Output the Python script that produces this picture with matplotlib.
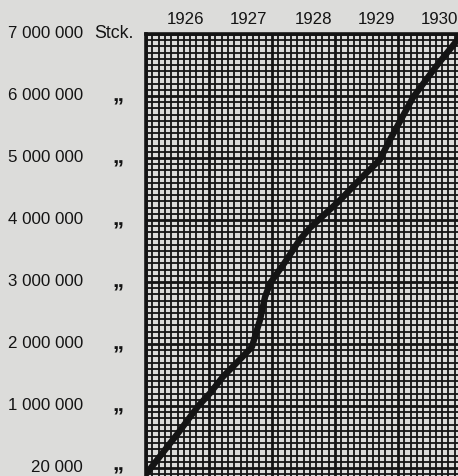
import numpy as np
import matplotlib
matplotlib.use("Agg")
import matplotlib.pyplot as plt
from matplotlib.ticker import MultipleLocator

# data (position in years, pieces)
years = [1926.00, 1926.50, 1926.83, 1927.02, 1927.22, 1927.50, 1927.68,
         1927.81, 1927.89, 1927.97, 1928.20, 1928.44, 1928.60, 1929.08,
         1929.40, 1929.71, 1929.87, 1930.24, 1930.60, 1930.94, 1930.98]
pieces = [-0.10e6, 0.55e6, 1.00e6, 1.21e6, 1.47e6, 1.76e6, 1.95e6,
          2.39e6, 2.76e6, 2.98e6, 3.31e6, 3.68e6, 3.87e6, 4.32e6,
          4.66e6, 4.97e6, 5.29e6, 5.98e6, 6.47e6, 6.90e6, 7.00e6]

year_labels = ["1926", "1927", "1928", "1929", "1930"]
year_label_pos = [1926.62, 1927.63, 1928.66, 1929.66, 1930.66]

y_ticks = [0, 1e6, 2e6, 3e6, 4e6, 5e6, 6e6, 7e6]
y_labels = ["20 000", "1 000 000", "2 000 000", "3 000 000",
            "4 000 000", "5 000 000", "6 000 000", "7 000 000"]

paper = "#dcdcda"
ink = "#141414"

plt.rcParams['font.family'] = ['Liberation Sans', 'DejaVu Sans']

fig = plt.figure(figsize=(4.58, 4.76), dpi=100, facecolor=paper)
ax = fig.add_axes([146 / 458, 0, 1 - 146 / 458, 1 - 34 / 476])
ax.set_facecolor(paper)

ax.set_xlim(1926, 1926 + 312 / 63)
ax.set_ylim(-0.13e6, 7e6)

# graph paper grid
ax.xaxis.set_major_locator(MultipleLocator(1))
ax.xaxis.set_minor_locator(MultipleLocator(0.1))
ax.yaxis.set_major_locator(MultipleLocator(1e6))
ax.yaxis.set_minor_locator(MultipleLocator(1e5))
ax.grid(which='minor', color=ink, lw=1.3)
ax.grid(which='major', color=ink, lw=2.0)
ax.set_axisbelow(True)
ax.tick_params(which='both', length=0, labelleft=False, labelbottom=False)

for side in ['right', 'bottom']:
    ax.spines[side].set_visible(False)
for side in ['left', 'top']:
    ax.spines[side].set_linewidth(2.6)
    ax.spines[side].set_color(ink)

ax.plot(years, pieces, color=ink, lw=4.6, solid_capstyle='round',
        solid_joinstyle='round', zorder=5)

# left labels
ytr = ax.get_yaxis_transform()
for v, lab in zip(y_ticks, y_labels):
    ax.text(-0.202, v, lab, transform=ytr, ha='right', va='center',
            fontsize=12.2, color=ink, clip_on=False)
    if v == 7e6:
        ax.text(-0.165, v, "Stck.", transform=ytr, ha='left', va='center',
                fontsize=12.8, color=ink, clip_on=False)
    else:
        off = 0.085e6 if v > 0 else 0.04e6
        ax.text(-0.09, v - off, "\u201e", transform=ytr, ha='center',
                va='baseline', fontsize=16, fontweight='bold', color=ink,
                clip_on=False)

# year labels above the frame
xtr = ax.get_xaxis_transform()
for x, lab in zip(year_label_pos, year_labels):
    ax.text(x, 1.032, lab, transform=xtr, ha='center', va='center',
            fontsize=12.2, color=ink, clip_on=False)

fig.savefig("out.png", dpi=100, facecolor=paper)
